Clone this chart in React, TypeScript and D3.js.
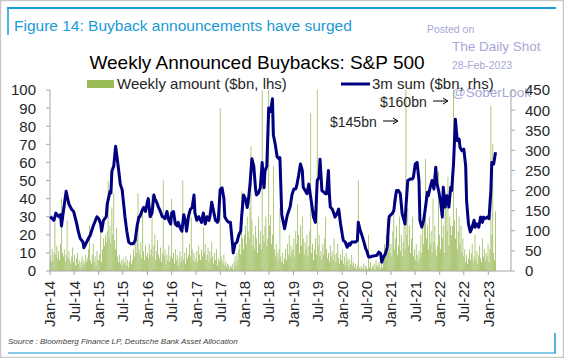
import React from "react";
import * as d3 from "d3";

// Weekly announced buybacks ($bn, lhs), one value per week starting 3-Jan-2014
const weekly2014 = [8,5,12,6,10,27,9,14,7,11,6,15,40,10,8,12,5,9,28,7,11,6,4,8,13,5,9,3,7,10,4,6,2,5,8,3,6,4,9,5,7,12,25,6,4,9,15,5,8,3,11,6];
const weekly2015 = [6,9,27,5,12,18,14,20,16,22,50,18,25,15,35,20,43,17,12,24,8,5,9,4,6,3,7,5,4,8,3,6,2,5,9,4,6,12,8,15,10,18,43,12,9,16,7,35,11,6,14,8];
const weekly2016 = [10,7,15,9,12,42,8,14,20,6,11,17,9,7,13,5,10,50,8,12,4,9,6,14,5,8,40,7,10,4,12,6,9,3,7,11,5,8,50,6,10,4,13,7,9,15,8,30,12,6,10,5];
const weekly2017 = [7,11,5,14,9,6,12,8,24,10,15,6,9,13,5,11,7,16,8,4,10,6,12,3,7,5,90,8,6,4,9,3,5,2,4,3,1,3,2,4,1,5,8,3,10,6,12,15,9,44,18,12];
const weekly2018 = [20,25,15,30,22,18,35,69,28,14,20,12,25,18,10,30,15,22,12,100,20,16,25,30,14,18,100,25,31,15,20,58,12,8,15,10,6,12,35,8,5,10,4,7,12,6,15,9,20,8,14,10];
const weekly2019 = [12,18,8,22,15,37,20,10,25,14,30,18,9,16,12,20,8,14,22,87,10,15,6,12,18,9,100,14,20,8,11,6,15,9,18,30,12,7,10,5,14,8,11,6,18,9,5,10,15,7,4,9];
const weekly2020 = [6,12,4,8,3,10,5,7,2,6,4,9,3,5,2,4,1,3,50,2,1,3,1,2,4,1,3,2,1,20,2,5,1,3,2,4,1,6,3,2,5,3,1,4,2,8,15,10,20,29,12,18];
const weekly2021 = [10,15,8,22,40,12,18,25,9,14,30,11,20,8,16,28,12,100,20,35,14,25,10,18,30,8,12,6,15,9,5,11,7,20,10,28,15,35,62,18,25,12,30,15,22,10,40,16,25,12,8,14];
const weekly2022 = [55,20,12,30,18,25,10,35,43,22,52,14,30,25,20,25,100,28,18,35,12,22,30,15,25,10,18,8,12,5,9,4,7,12,6,10,15,5,8,20,6,11,4,9,14,7,5,18,8,12,6,10];
const weekly2023 = [8,15,5,12,91,20,70,10,6,33];

// 3m sum ($bn, rhs): week index (since 3-Jan-2014) and value
const lineWeeks = [0,4,6,9,11,12,14,17,20,23,25,28,30,32,35,36,39,43,46,50,52,54,55,57,60,61,64,65,66,68,70,71,73,75,77,79,80,82,84,86,89,91,93,95,96,98,100,102,104,105,107,109,111,112,114,116,118,120,121,123,125,127,129,130,132,134,136,137,139,141,143,145,146,148,150,152,154,155,157,159,161,162,164,166,168,170,171,173,175,177,179,180,182,184,186,187,189,191,193,195,196,198,200,202,204,205,207,209,211,212,214,216,218,220,221,223,225,227,229,230,232,234,236,238,239,241,243,245,246,248,251,254,255,257,259,261,263,264,266,268,270,271,273,275,277,279,280,282,284,286,288,289,291,293,295,296,298,299,300,302,304,305,307,309,311,313,314,316,318,320,321,323,325,327,329,330,332,334,336,338,339,341,343,345,346,350,352,354,355,357,359,361,362,363,364,366,368,370,371,373,375,377,379,380,381,383,386,388,389,391,393,395,396,398,400,402,404,405,407,409,411,413,414,416,418,420,421,423,425,427,429,430,432,434,436,438,439,441,443,445,446,448,450,452,454,455,457,459,461,463,464,466,468,470,472,473,475,477];
const lineValues = [135,126,144,135,140,112,148,198,166,153,148,121,99,81,72,58,72,90,112,135,130,117,99,126,135,166,198,194,248,261,310,292,256,216,202,158,135,99,72,68,68,76,112,135,135,148,158,148,171,180,135,144,189,180,171,158,148,135,135,130,148,126,117,144,148,117,112,121,108,99,140,121,99,135,153,158,189,144,126,135,126,121,144,117,135,126,135,171,148,126,121,126,202,207,180,135,126,121,121,72,45,68,72,90,99,135,189,180,158,171,216,279,261,202,189,194,207,270,207,248,261,405,396,428,338,315,284,279,282,140,105,140,146,160,190,204,204,212,237,266,250,208,200,192,216,183,167,134,121,225,233,278,200,196,192,192,250,192,159,154,142,134,142,154,117,88,76,72,59,68,64,72,72,72,76,121,101,88,72,55,51,35,35,37,37,39,47,43,22,35,43,59,101,134,138,142,150,187,200,200,192,142,126,117,159,225,229,229,233,266,270,225,126,109,126,159,196,187,208,225,204,258,220,200,175,134,208,159,187,159,208,200,266,377,324,328,307,299,303,262,175,117,97,109,126,109,117,109,134,121,134,130,134,130,200,270,266,295];

const leftTicks = [0,10,20,30,40,50,60,70,80,90,100];
const rightTicks = [0,50,100,150,200,250,300,350,400,450];

const W = 564, H = 358;
const FONT = "'Liberation Sans', Arial, Helvetica, sans-serif";

export default function App() {
  const weekly = [
    ...weekly2014, ...weekly2015, ...weekly2016, ...weekly2017, ...weekly2018,
    ...weekly2019, ...weekly2020, ...weekly2021, ...weekly2022, ...weekly2023,
  ];
  const weekDate = (i: number) => new Date(2014, 0, 3 + 7 * i);

  const x = d3.scaleTime().domain([new Date(2014, 0, 1), new Date(2023, 5, 20)]).range([50, 511]);
  const yL = d3.scaleLinear().domain([0, 100]).range([271, 90]).clamp(true);
  const yR = d3.scaleLinear().domain([0, 450]).range([271, 90]);

  const xTicks: Date[] = [];
  for (let yr = 2014; yr <= 2023; yr++) {
    xTicks.push(new Date(yr, 0, 1));
    if (yr < 2023) xTicks.push(new Date(yr, 6, 1));
  }
  const fmt = d3.timeFormat("%b-%y");

  const barW = (x(weekDate(1)) - x(weekDate(0))) * 0.85;
  const linePts = lineWeeks.map((w, i) => [weekDate(w), lineValues[i]] as [Date, number]);
  const linePath = d3.line<[Date, number]>().x(d => x(d[0])).y(d => yR(d[1])).curve(d3.curveLinear)(linePts) || "";

  const axisColor = "#a6a6a6";
  const labelColor = "#262626";
  const blue = "#1a9ad6";
  const wm = "#a7a7d6";

  return (
    <svg width={W} height={H} style={{ position: "absolute", left: 0, top: 0, background: "#fff" }} fontFamily={FONT}>
      <rect x={0.5} y={0.5} width={W - 1} height={H - 1} fill="#fff" stroke="#c8c8c8" strokeWidth={1.5} />
      {/* Frame lines */}
      <line x1={7} y1={8} x2={556} y2={8} stroke={blue} strokeWidth={2} />
      <line x1={8} y1={8} x2={8} y2={35} stroke={blue} strokeWidth={1.5} />
      <line x1={8} y1={353} x2={556} y2={353} stroke={blue} strokeWidth={1.5} opacity={0.7} />
      <line x1={555} y1={333} x2={555} y2={353} stroke={blue} strokeWidth={1.5} />
      <text x={14} y={31} fontSize={15.5} fill={blue}>Figure 14: Buyback announcements have surged</text>

      {/* Watermark */}
      <text x={427} y={33} fontSize={10.5} fill={wm}>Posted on</text>
      <text x={452} y={51} fontSize={13.5} fill={wm}>The Daily Shot</text>
      <text x={452} y={69} fontSize={10.5} fill={wm}>28-Feb-2023</text>
      <text x={452} y={97} fontSize={13.5} fill={wm}>@SoberLook</text>

      {/* Chart title */}
      <text x={257} y={69} fontSize={19} textAnchor="middle" fill="#000">Weekly Announced Buybacks: S&amp;P 500</text>

      {/* Legend */}
      <rect x={87} y={80} width={27} height={8} fill="#9bbb59" />
      <text x={117} y={89} fontSize={15} fill={labelColor}>Weekly amount ($bn, lhs)</text>
      <line x1={341} y1={84} x2={370} y2={84} stroke="#000080" strokeWidth={3} />
      <text x={372} y={89} fontSize={15} fill={labelColor}>3m sum ($bn, rhs)</text>

      {/* Bars */}
      <g>
        {weekly.map((v, i) => (
          <rect key={i} x={x(weekDate(i)) - barW / 2} y={yL(v)} width={barW} height={yL(0) - yL(v)} fill="#9bbb59" />
        ))}
      </g>

      {/* Axes */}
      <line x1={50} y1={90} x2={50} y2={271} stroke={axisColor} strokeWidth={1} />
      <line x1={511} y1={90} x2={511} y2={271} stroke={axisColor} strokeWidth={1} />
      <line x1={50} y1={271} x2={511} y2={271} stroke={axisColor} strokeWidth={1} />
      {leftTicks.map(t => (
        <g key={"l" + t}>
          <line x1={46} x2={50} y1={yL(t)} y2={yL(t)} stroke={axisColor} />
          <text x={36} y={yL(t)} dy="0.36em" fontSize={15} textAnchor="end" fill={labelColor}>{t}</text>
        </g>
      ))}
      {rightTicks.map(t => (
        <g key={"r" + t}>
          <line x1={511} x2={515} y1={yR(t)} y2={yR(t)} stroke={axisColor} />
          <text x={525} y={yR(t)} dy="0.36em" fontSize={15} textAnchor="start" fill={labelColor}>{t}</text>
        </g>
      ))}
      {xTicks.map((t, i) => (
        <g key={"x" + i}>
          <line x1={x(t)} x2={x(t)} y1={271} y2={275} stroke={axisColor} />
          <text transform={`translate(${x(t)},${281}) rotate(-90)`} dy="0.36em" fontSize={15} textAnchor="end" fill={labelColor}>{fmt(t)}</text>
        </g>
      ))}

      {/* Line */}
      <path d={linePath} fill="none" stroke="#000080" strokeWidth={3} strokeLinejoin="round" />

      {/* Annotations */}
      <text x={380} y={107} fontSize={14} fill={labelColor}>$160bn</text>
      <line x1={433} y1={101} x2={447} y2={101} stroke="#000" strokeWidth={1} />
      <path d="M443,98 L448,101 L443,104" fill="none" stroke="#000" strokeWidth={1} />
      <text x={330} y={127} fontSize={14} fill={labelColor}>$145bn</text>
      <line x1={383} y1={121} x2={397} y2={121} stroke="#000" strokeWidth={1} />
      <path d="M393,118 L398,121 L393,124" fill="none" stroke="#000" strokeWidth={1} />

      <text x={8} y={344} fontSize={8} fontStyle="italic" fill="#404040">Source : Bloomberg Finance LP, Deutsche Bank Asset Allocation</text>
    </svg>
  );
}
